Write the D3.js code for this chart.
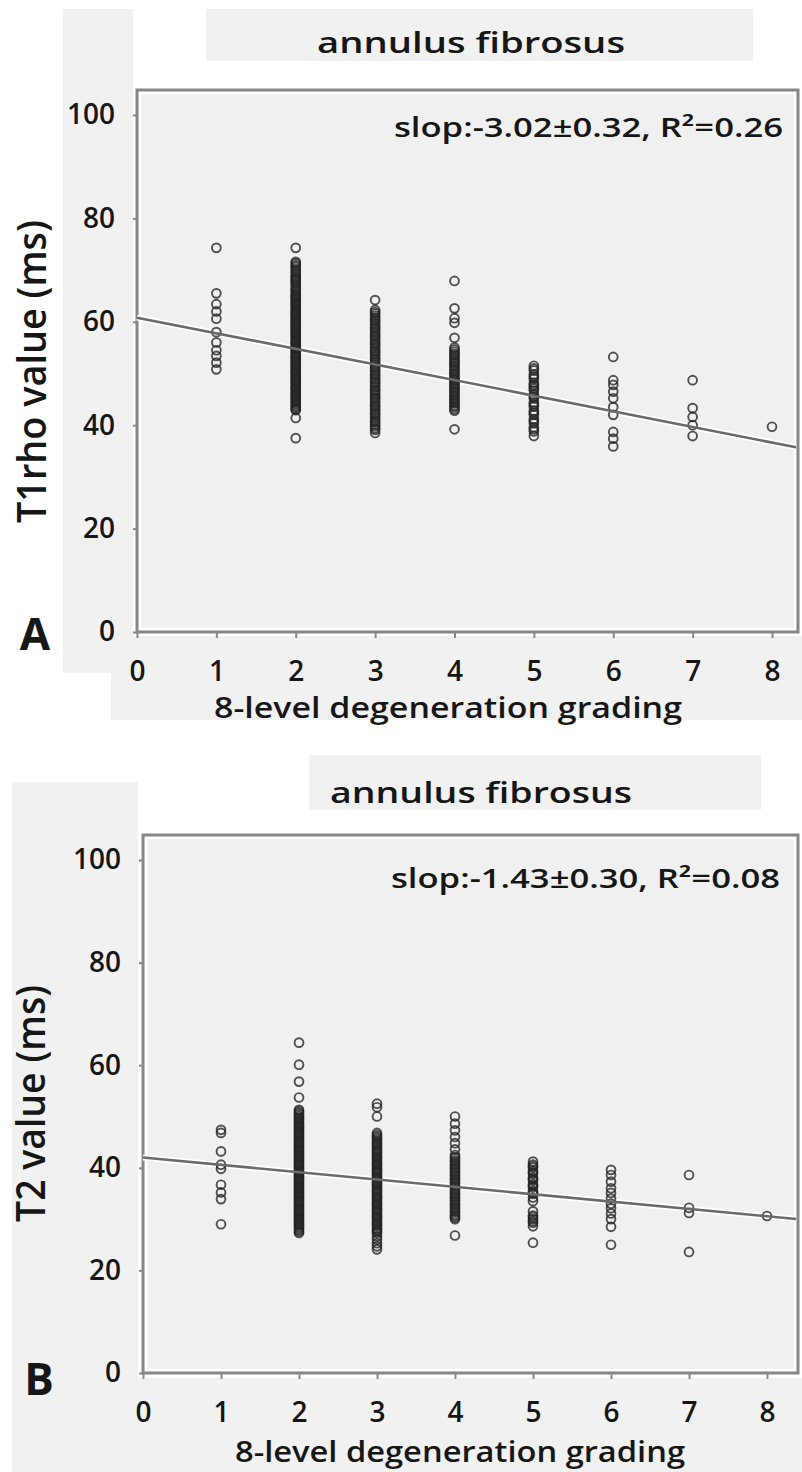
<!DOCTYPE html>
<html>
<head>
<meta charset="utf-8">
<script src="https://cdn.jsdelivr.net/npm/d3@7"></script>
<style>
  body { margin: 0; background: #fff; }
  svg text { font-family: "Open Sans", sans-serif; fill: #161616; }
</style>
</head>
<body>
<div id="chart"></div>
<script>
// axis ticks
const xTicks = [0, 1, 2, 3, 4, 5, 6, 7, 8];
const yTicks = [0, 20, 40, 60, 80, 100];
const grades = [1, 2, 3, 4, 5, 6, 7, 8];

// T1rho values (ms), one list per grade 1..8
const t1rhoByGrade = [
    [74.3, 65.5, 63.4, 62.0, 60.6, 58.0, 56.0, 54.5, 53.4, 52.1, 50.8],
    [74.3, 71.6, 70.9, 70.2, 69.8, 69.1, 68.4, 67.9, 67.2, 66.8, 66.1, 65.4, 64.9, 64.3, 63.7, 63.2, 62.6, 62.0,
     61.5, 60.9, 60.3, 59.8, 59.2, 58.7, 58.1, 57.6, 57.0, 56.4, 55.9, 55.3, 54.8, 54.2, 53.6, 53.1, 52.5, 51.9,
     51.4, 50.8, 50.3, 49.7, 49.1, 48.6, 48.0, 47.4, 46.9, 46.3, 45.8, 45.2, 44.6, 44.0, 43.4, 42.9, 41.4, 37.5,
     71.3, 70.6, 69.5, 68.7, 68.1, 67.5, 66.4, 65.8, 65.1, 64.6, 64.0, 63.4, 62.9, 62.3, 61.7, 61.2, 60.6, 60.0,
     59.5, 58.9, 58.4, 57.8, 57.3, 56.7, 56.1, 55.6, 55.0, 54.5, 53.9, 53.3, 52.8, 52.2, 51.6, 51.1, 50.5, 50.0,
     49.4, 48.8, 48.3, 47.7, 47.1, 46.6, 46.0, 45.5, 44.9, 44.3, 43.7, 43.1],
    [64.2, 62.3, 61.6, 60.8, 60.1, 59.3, 58.6, 57.8, 57.1, 56.3, 55.6, 54.8, 54.1, 53.3, 52.6, 51.8, 51.1, 50.3,
     49.6, 48.8, 48.1, 47.3, 46.6, 45.8, 45.1, 44.3, 43.6, 42.8, 42.1, 41.3, 40.6, 39.8, 39.1, 38.5,
     61.9, 61.2, 60.4, 59.7, 58.9, 58.2, 57.4, 56.7, 55.9, 55.2, 54.4, 53.7, 52.9, 52.2, 51.4, 50.7, 49.9, 49.2,
     48.4, 47.7, 46.9, 46.2, 45.4, 44.7, 43.9, 43.2, 42.4, 41.7, 40.9, 40.2, 39.4],
    [67.9, 62.6, 60.7, 59.8, 56.9, 55.0, 54.2, 53.5, 52.7, 52.0, 51.3, 50.5, 49.8, 49.0, 48.4, 47.7, 47.0, 46.3,
     45.6, 44.9, 44.2, 43.5, 42.8, 39.2,
     54.6, 53.8, 53.1, 52.3, 51.6, 50.9, 50.1, 49.4, 48.7, 48.0, 47.3, 46.6, 45.9, 45.2, 44.5, 43.8, 43.1],
    [51.5, 50.6, 49.8, 49.0, 48.2, 47.5, 46.7, 45.9, 45.2, 44.4, 43.6, 42.8, 42.0, 41.2, 40.4, 39.6, 38.8, 37.9,
     51.0, 49.4, 47.8, 47.1, 45.5, 44.0, 42.4, 40.8, 39.2],
    [53.2, 48.7, 47.8, 46.5, 45.2, 43.5, 42.0, 38.7, 37.4, 35.9],
    [48.7, 43.3, 41.6, 40.0, 37.9],
    [39.7]
];
const t1rhoFit = [60.8, -3.02]; // intercept, slope

// T2 values (ms), one list per grade 1..8
const t2ByGrade = [
    [47.4, 46.8, 43.2, 40.6, 39.8, 36.7, 35.2, 33.9, 29.0],
    [64.4, 60.1, 56.8, 53.7, 51.3, 50.7, 50.1, 49.6, 49.0, 48.4, 47.9, 47.3, 46.8, 46.2, 45.6, 45.1, 44.5, 43.9,
     43.4, 42.8, 42.3, 41.7, 41.1, 40.6, 40.0, 39.4, 38.9, 38.3, 37.8, 37.2, 36.6, 36.1, 35.5, 34.9, 34.4, 33.8,
     33.3, 32.7, 32.1, 31.6, 31.0, 30.4, 29.9, 29.3, 28.8, 28.2, 27.6,
     51.0, 50.4, 49.8, 49.3, 48.7, 48.1, 47.6, 47.0, 46.5, 45.9, 45.3, 44.8, 44.2, 43.6, 43.1, 42.5, 42.0, 41.4,
     40.8, 40.3, 39.7, 39.1, 38.6, 38.0, 37.5, 36.9, 36.3, 35.8, 35.2, 34.6, 34.1, 33.5, 33.0, 32.4, 31.8, 31.3,
     30.7, 30.1, 29.6, 29.0, 28.5, 27.9, 27.3],
    [52.5, 51.8, 50.0, 46.8, 46.1, 45.5, 44.8, 44.2, 43.5, 42.9, 42.2, 41.6, 40.9, 40.3, 39.6, 39.0, 38.3, 37.7,
     37.0, 36.4, 35.7, 35.1, 34.4, 33.8, 33.1, 32.5, 31.8, 31.2, 30.5, 29.9, 29.2, 28.6, 27.9, 27.3, 26.6, 26.0,
     25.3, 24.7, 24.1,
     46.4, 45.8, 45.1, 44.5, 43.8, 43.2, 42.5, 41.9, 41.2, 40.6, 39.9, 39.3, 38.6, 38.0, 37.3, 36.7, 36.0, 35.4,
     34.7, 34.1, 33.4, 32.8, 32.1, 31.5, 30.8, 30.2, 29.5, 28.9, 28.2, 27.6],
    [50.0, 48.6, 47.3, 46.0, 44.8, 43.6, 42.5, 41.8, 41.1, 40.4, 39.7, 39.0, 38.3, 37.6, 36.9, 36.2, 35.5, 34.8,
     34.1, 33.4, 32.7, 32.0, 31.3, 30.6, 30.0, 26.8,
     42.1, 41.4, 40.7, 40.0, 39.3, 38.6, 37.9, 37.2, 36.5, 35.8, 35.1, 34.4, 33.7, 33.0, 32.3, 31.6, 30.9, 30.3],
    [41.2, 40.6, 40.0, 39.4, 38.8, 38.1, 37.5, 36.8, 36.2, 35.5, 34.9, 34.2, 33.5, 31.5, 30.7, 30.0, 29.3, 28.6, 25.4,
     40.3, 39.1, 37.8, 36.5, 35.2, 30.4, 29.6],
    [39.6, 38.6, 37.3, 36.0, 35.1, 34.0, 33.0, 32.1, 31.1, 30.0, 28.5, 25.0],
    [38.6, 32.2, 31.2, 23.6],
    [30.6]
];
const t2Fit = [42.0, -1.43];

const svg = d3.select("#chart").append("svg")
    .attr("width", 802)
    .attr("height", 1472);

// panel layout (pixels)
const panels = [
    {
        letter: "A", title: "annulus fibrosus", yTitle: "T1rho value (ms)",
        note: "slop:-3.02\u00b10.32, R\u00b2=0.26",
        values: t1rhoByGrade, fit: t1rhoFit,
        left: 137, right: 798, top: 90, bottom: 632, y100: 115, x8: 772,
        boxes: [[206, 9, 547, 52], [63, 9, 70, 664], [111, 636, 691, 84]],
        titlePos: [471, 53, 308], notePos: [783, 137, 389],
        xTitlePos: [448, 718, 468], yTitlePos: [46, 371.5, 303], letterPos: [35, 650]
    },
    {
        letter: "B", title: "annulus fibrosus", yTitle: "T2 value (ms)",
        note: "slop:-1.43\u00b10.30, R\u00b2=0.08",
        values: t2ByGrade, fit: t2Fit,
        left: 143, right: 798, top: 835, bottom: 1373, y100: 860, x8: 767,
        boxes: [[309, 755, 452, 55], [12, 782, 126, 690], [12, 1378, 790, 94]],
        titlePos: [481, 803, 302], notePos: [780, 888, 389],
        xTitlePos: [460, 1462, 450], yTitlePos: [45, 1103.5, 237], letterPos: [39, 1395]
    }
];

function drawPanel(p) {
    const g = svg.append("g");

    const x = d3.scaleLinear().domain([0, 8]).range([p.left, p.x8]);
    const y = d3.scaleLinear().domain([0, 100]).range([p.bottom, p.y100]);

    // grey backing boxes
    g.selectAll("rect.box")
        .data(p.boxes)
        .enter()
        .append("rect")
        .attr("x", d => d[0]).attr("y", d => d[1])
        .attr("width", d => d[2]).attr("height", d => d[3])
        .attr("fill", "#f1f1f1");

    // plot area
    g.append("rect")
        .attr("x", p.left).attr("y", p.top)
        .attr("width", p.right - p.left).attr("height", p.bottom - p.top)
        .attr("fill", "#f0f0f0");
    g.append("rect")
        .attr("x", p.left + 3).attr("y", p.top + 3)
        .attr("width", p.right - p.left - 6).attr("height", p.bottom - p.top - 6)
        .attr("fill", "none").attr("stroke", "#fff").attr("stroke-width", 2.5);

    // axes
    const yAxis = g.append("g")
        .attr("transform", `translate(${p.left},0)`)
        .call(d3.axisLeft(y).tickValues(yTicks).tickSize(4).tickPadding(18));
    const xAxis = g.append("g")
        .attr("transform", `translate(0,${p.bottom})`)
        .call(d3.axisBottom(x).tickValues(xTicks).tickSize(6).tickPadding(23));
    [yAxis, xAxis].forEach(a => {
        a.select(".domain").remove();
        a.selectAll("line").attr("stroke", "#888").attr("stroke-width", 2);
        a.selectAll("text")
            .style("font-family", "'Open Sans', sans-serif")
            .style("font-size", "28px")
            .style("font-weight", 600)
            .attr("fill", "#1c1c1c");
    });

    // frame
    g.append("rect")
        .attr("x", p.left).attr("y", p.top)
        .attr("width", p.right - p.left).attr("height", p.bottom - p.top)
        .attr("fill", "none").attr("stroke", "#878787").attr("stroke-width", 3);

    // regression line
    const xEnd = x.invert(p.right - 2);
    const fitPts = [[0, p.fit[0]], [xEnd, p.fit[0] + p.fit[1] * xEnd]];
    const line = d3.line().x(d => x(d[0])).y(d => y(d[1]));
    g.append("path").datum(fitPts)
        .attr("d", line)
        .attr("stroke", "#fff").attr("stroke-width", 6).attr("fill", "none");

    // points
    const pts = [];
    p.values.forEach((vals, i) => vals.forEach(v => pts.push([grades[i], v])));
    g.selectAll("circle")
        .data(pts)
        .enter()
        .append("circle")
        .attr("cx", d => x(d[0]))
        .attr("cy", d => y(d[1]))
        .attr("r", 4.4)
        .attr("fill", "none")
        .attr("stroke", "#222")
        .attr("stroke-width", 1.9)
        .attr("stroke-opacity", 0.78);

    g.append("path").datum(fitPts)
        .attr("d", line)
        .attr("stroke", "#6a6a6a").attr("stroke-width", 2.6).attr("fill", "none");

    // texts
    g.append("text")
        .attr("x", p.titlePos[0]).attr("y", p.titlePos[1])
        .attr("text-anchor", "middle")
        .attr("textLength", p.titlePos[2]).attr("lengthAdjust", "spacingAndGlyphs")
        .style("font-size", "29px").style("font-weight", 600)
        .text(p.title);

    g.append("text")
        .attr("x", p.notePos[0]).attr("y", p.notePos[1])
        .attr("text-anchor", "end")
        .attr("textLength", p.notePos[2]).attr("lengthAdjust", "spacingAndGlyphs")
        .style("font-size", "27px").style("font-weight", 600)
        .text(p.note);

    g.append("text")
        .attr("x", p.xTitlePos[0]).attr("y", p.xTitlePos[1])
        .attr("text-anchor", "middle")
        .attr("textLength", p.xTitlePos[2]).attr("lengthAdjust", "spacingAndGlyphs")
        .style("font-size", "28px").style("font-weight", 600)
        .text("8-level degeneration grading");

    g.append("g")
        .attr("transform", `translate(${p.yTitlePos[0]},${p.yTitlePos[1]}) scale(1.35,1)`)
        .append("text")
        .attr("transform", "rotate(-90)")
        .attr("text-anchor", "middle")
        .attr("textLength", p.yTitlePos[2]).attr("lengthAdjust", "spacingAndGlyphs")
        .style("font-size", "30px").style("font-weight", 600)
        .text(p.yTitle);

    g.append("text")
        .attr("x", p.letterPos[0]).attr("y", p.letterPos[1])
        .attr("text-anchor", "middle")
        .style("font-size", "44px").style("font-weight", 700)
        .text(p.letter);
}

panels.forEach(drawPanel);
</script>
</body>
</html>
